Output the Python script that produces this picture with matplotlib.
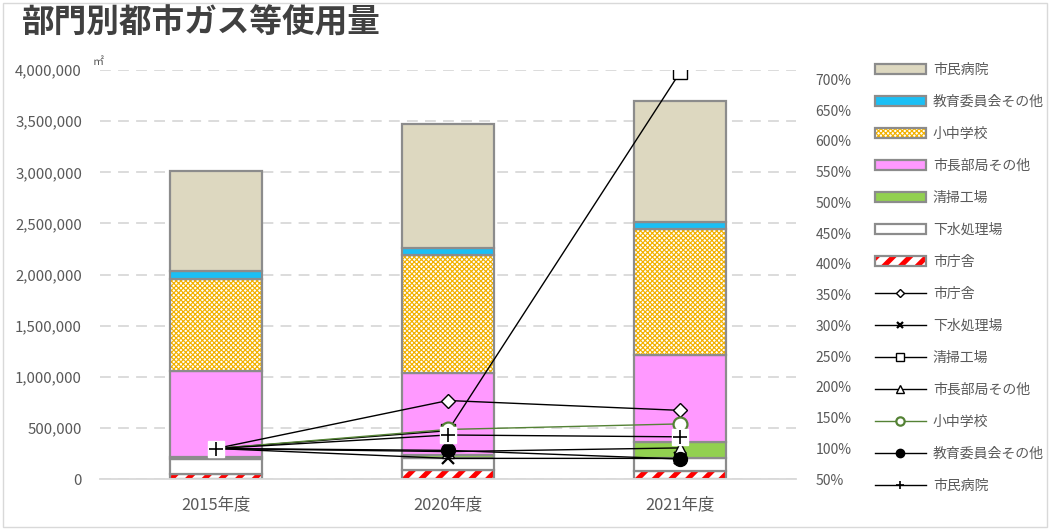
import matplotlib
matplotlib.use('Agg')
from matplotlib import pyplot as plt
from matplotlib.patches import Patch, Rectangle
from matplotlib.lines import Line2D
from matplotlib.legend_handler import HandlerTuple
from matplotlib.ticker import FuncFormatter

plt.rcParams['font.family'] = ['Noto Sans CJK JP', 'DejaVu Sans']

# Data
years = ['2015年度', '2020年度', '2021年度']
sections = ['市庁舎', '下水処理場', '清掃工場', '市長部局その他', '小中学校', '教育委員会その他', '市民病院']

city_hall = [50000, 89000, 81000]
sewage = [150000, 124000, 128000]
cleaning = [22000, 25000, 156000]
mayor_dept = [836000, 797000, 845000]
schools = [902000, 1160000, 1237000]
education = [75000, 70000, 63000]
hospital = [977000, 1211000, 1190000]

# ratio to 2015 (%)
city_hall_pct = [100, 178, 162]
sewage_pct = [100, 84, 84]
cleaning_pct = [100, 129, 711]
mayor_dept_pct = [100, 95, 101]
schools_pct = [100, 131, 140]
education_pct = [100, 97, 83]
hospital_pct = [100, 122, 119]

left_ticks = list(range(0, 4000001, 500000))
right_ticks = list(range(50, 701, 50))


def set_hatch_lw(patch, lw):
    # hatch width is taken from rcParams when the patch is drawn
    if hasattr(patch, 'set_hatch_linewidth'):
        patch.set_hatch_linewidth(lw)
    orig_draw = patch.draw

    def draw(renderer):
        with plt.rc_context({'hatch.linewidth': lw}):
            orig_draw(renderer)
    patch.draw = draw


def main():

    # Parameters
    edge = '#8C8C8C'
    text_col = '#595959'
    grid_col = '#D9D9D9'
    bar_width = 0.4

    bar_series = [city_hall, sewage, cleaning, mayor_dept, schools, education, hospital]
    bar_styles = [
        dict(face='white', hatch='//', hatch_col='#FF0000', hatch_lw=3.6),
        dict(face='white'),
        dict(face='#92D050'),
        dict(face='#FF99FF'),
        dict(face='white', hatch='xxxxxxx', hatch_col='#F2B100', hatch_lw=0.85),
        dict(face='#1BBFF5'),
        dict(face='#DDD8C0'),
    ]

    pct_series = [city_hall_pct, sewage_pct, cleaning_pct, mayor_dept_pct,
                  schools_pct, education_pct, hospital_pct]
    line_styles = [
        dict(marker='D', ms=7.5, mfc='white', mec='black', color='black'),
        dict(marker='x', ms=8, mfc='black', mec='black', color='black', mew=1.6),
        dict(marker='s', ms=10, mfc='white', mec='black', color='black'),
        dict(marker='^', ms=9, mfc='white', mec='black', color='black'),
        dict(marker='o', ms=10, mfc='white', mec='#548235', color='#548235', mew=1.6),
        dict(marker='o', ms=10, mfc='black', mec='black', color='black'),
        dict(marker='+', ms=10, mfc='black', mec='black', color='black', mew=1.2),
    ]

    fig = plt.figure(figsize=(10.51, 5.30), dpi=100)
    ax = fig.add_axes([100 / 1051, 1 - 479.3 / 530, 696 / 1051, 409.3 / 530])
    x = list(range(len(years)))

    bottom = [0, 0, 0]
    for vals, st in zip(bar_series, bar_styles):
        if 'hatch' in st:
            bars = ax.bar(x, vals, bar_width, bottom=bottom, color=st['face'],
                          edgecolor=st['hatch_col'], hatch=st['hatch'], linewidth=0)
            for b in bars:
                set_hatch_lw(b, st['hatch_lw'])
            ax.bar(x, vals, bar_width, bottom=bottom, fill=False, edgecolor=edge, linewidth=1.6)
        else:
            ax.bar(x, vals, bar_width, bottom=bottom, color=st['face'], edgecolor=edge, linewidth=1.6)
        bottom = [b + v for b, v in zip(bottom, vals)]

    ax.set_xlim(-0.5, 2.5)
    ax.set_ylim(0, 4000000)
    ax.set_yticks(left_ticks)
    ax.yaxis.set_major_formatter(FuncFormatter(lambda v, p: f'{int(v):,}'))
    ax.set_xticks(x)
    ax.set_xticklabels(years)
    ax.set_axisbelow(True)
    ax.yaxis.grid(True, color=grid_col, linestyle=(0, (6, 4)), linewidth=1.3)
    for s in ['top', 'left', 'right']:
        ax.spines[s].set_visible(False)
    ax.spines['bottom'].set_color(grid_col)
    ax.spines['bottom'].set_linewidth(1.3)
    ax.tick_params(axis='y', length=0, pad=13, labelsize=10.8, labelcolor=text_col)
    ax.tick_params(axis='x', length=0, pad=12, labelsize=11.8, labelcolor=text_col)

    ax2 = ax.twinx()
    for vals, st in zip(pct_series, line_styles):
        if st['marker'] == '+':
            ax2.plot(x, vals, color=st['color'], linewidth=1, marker='s', ms=11,
                     mfc='white', mec='white')
            ax2.plot(x, vals, linestyle='none', marker='+', ms=st['ms'], mec='black', mew=st['mew'])
        else:
            ax2.plot(x, vals, linewidth=1, **st)
    ax2.set_ylim(50, 715)
    ax2.set_yticks(right_ticks)
    ax2.yaxis.set_major_formatter(FuncFormatter(lambda v, p: f'{int(v)}%'))
    for s in ['top', 'left', 'right', 'bottom']:
        ax2.spines[s].set_visible(False)
    ax2.tick_params(axis='y', length=0, pad=14, labelsize=10, labelcolor=text_col)

    # Legend
    handles = []
    labels = []
    for name, st in reversed(list(zip(sections, bar_styles))):
        if 'hatch' in st:
            h1 = Patch(facecolor=st['face'], edgecolor=st['hatch_col'], hatch=st['hatch'], linewidth=0)
            h2 = Patch(facecolor='none', edgecolor=edge, linewidth=1.6)
            handles.append((h1, h2))
        else:
            handles.append(Patch(facecolor=st['face'], edgecolor=edge, linewidth=1.6))
        labels.append(name)
    for name, st in zip(sections, line_styles):
        handles.append(Line2D([], [], linewidth=1, **st))
        labels.append(name)

    leg = fig.legend(handles, labels, loc='upper left', bbox_to_anchor=(862 / 1051, 1 - 50 / 530),
                     frameon=False, fontsize=10, handlelength=3.7, handleheight=0.75,
                     labelspacing=1.3, handletextpad=0.5, markerscale=0.6,
                     handler_map={tuple: HandlerTuple(ndivide=1)})
    for t in leg.get_texts():
        t.set_color(text_col)
    # hatch widths for the legend patches
    for p in leg.get_patches():
        for st in bar_styles:
            if 'hatch' in st and p.get_hatch() == st['hatch']:
                set_hatch_lw(p, st['hatch_lw'])

    fig.text(22 / 1051, 1 - 23 / 530, '部門別都市ガス等使用量', fontsize=23.5, fontweight='bold',
             color='#404040', va='center', ha='left')
    fig.text(93 / 1051, 1 - 62 / 530, '㎡', fontsize=8, color=text_col, va='center', ha='left')

    fig.patches.append(Rectangle((0.003, 0.005), 0.993, 0.99, transform=fig.transFigure,
                                 fill=False, edgecolor=grid_col, linewidth=1))

    fig.savefig('out.png', dpi=100)


if __name__ == '__main__':
    main()
